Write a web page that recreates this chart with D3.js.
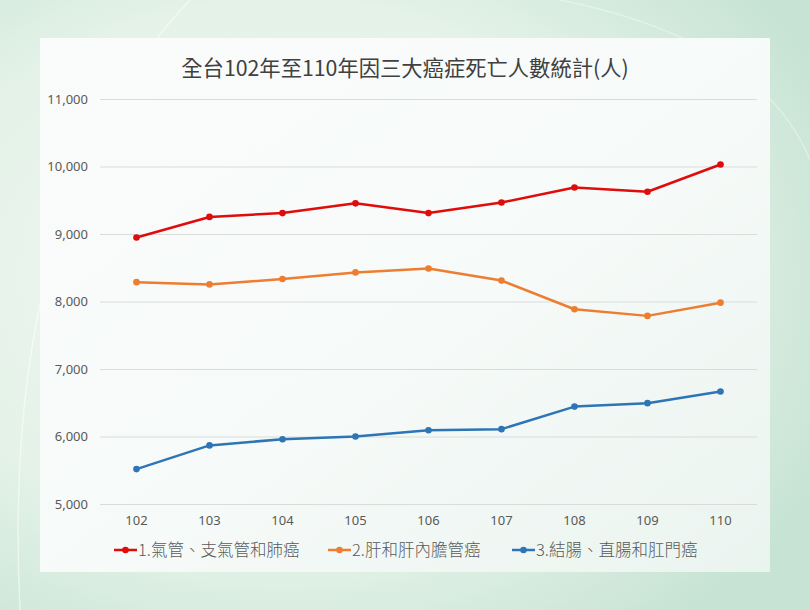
<!DOCTYPE html>
<html>
<head>
<meta charset="utf-8">
<script src="https://cdn.jsdelivr.net/npm/d3@7"></script>
<style>
  body { margin: 0; padding: 0; overflow: hidden; }
  svg { display: block; font-family: "Noto Sans CJK TC", "Noto Sans", sans-serif; }
</style>
</head>
<body>
<div class="chart"></div>
<script>
const years = ['102', '103', '104', '105', '106', '107', '108', '109', '110'];
const lung = [8948, 9253, 9310, 9454, 9310, 9466, 9690, 9626, 10029];
const liver = [8287, 8253, 8333, 8431, 8489, 8310, 7885, 7787, 7983];
const colon = [5517, 5868, 5960, 6000, 6092, 6109, 6443, 6494, 6667];
const seriesNames = ['1.氣管、支氣管和肺癌', '2.肝和肝內膽管癌', '3.結腸、直腸和肛門癌'];
const yTicks = [5000, 6000, 7000, 8000, 9000, 10000, 11000];

const w = 810, h = 610;
const colors = ['#e00b0b', '#ed7d31', '#2e75b6'];
const allSeries = [lung, liver, colon];

const svg = d3.select('div.chart')
  .append('svg')
  .attr('width', w)
  .attr('height', h);

const defs = svg.append('defs');
const bg = defs.append('radialGradient')
  .attr('id', 'bg')
  .attr('cx', '35%').attr('cy', '45%').attr('r', '75%');
bg.append('stop').attr('offset', '0%').attr('stop-color', '#f4faf5');
bg.append('stop').attr('offset', '60%').attr('stop-color', '#e4f2e8');
bg.append('stop').attr('offset', '100%').attr('stop-color', '#c6e3d4');

const panel = defs.append('linearGradient')
  .attr('id', 'panel')
  .attr('x1', '0%').attr('y1', '0%').attr('x2', '100%').attr('y2', '100%');
panel.append('stop').attr('offset', '0%').attr('stop-color', '#fafcfb');
panel.append('stop').attr('offset', '55%').attr('stop-color', '#f6faf8');
panel.append('stop').attr('offset', '100%').attr('stop-color', '#eaf4ef');

svg.append('rect')
  .attr('width', w).attr('height', h)
  .attr('fill', 'url(#bg)');

// faint decorative arcs in the background
svg.append('path')
  .attr('d', 'M 20 610 Q 0 200 190 0')
  .attr('fill', 'none').attr('stroke', '#ffffff').attr('stroke-opacity', 0.5).attr('stroke-width', 1.5);
svg.append('path')
  .attr('d', 'M 560 0 Q 760 40 810 160')
  .attr('fill', 'none').attr('stroke', '#ffffff').attr('stroke-opacity', 0.35).attr('stroke-width', 1.5);

svg.append('rect')
  .attr('x', 40).attr('y', 38)
  .attr('width', 730).attr('height', 534)
  .attr('fill', 'url(#panel)');

const margin = {left: 100, right: 757, top: 99, bottom: 504};

const xScale = d3.scaleBand()
  .domain(years)
  .range([margin.left, margin.right]);

const yScale = d3.scaleLinear()
  .domain([5000, 11000])
  .range([margin.bottom, margin.top]);

// gridlines
svg.append('g')
  .selectAll('line')
  .data(yTicks)
  .enter()
  .append('line')
  .attr('x1', margin.left)
  .attr('x2', margin.right)
  .attr('y1', (d) => yScale(d) + 0.5)
  .attr('y2', (d) => yScale(d) + 0.5)
  .attr('stroke', '#d9dcdb')
  .attr('stroke-width', 1);

const yAxis = d3.axisLeft(yScale)
  .tickValues(yTicks)
  .tickFormat(d3.format(','))
  .tickSize(0)
  .tickPadding(12);

const gy = svg.append('g')
  .attr('transform', 'translate(' + margin.left + ',0)')
  .call(yAxis);
gy.select('.domain').remove();
gy.selectAll('text')
  .attr('fill', '#595959')
  .style('font-size', '13px')
  .style('font-family', '"Noto Sans", sans-serif');

const xAxis = d3.axisBottom(xScale).tickSize(0).tickPadding(12);
const gx = svg.append('g')
  .attr('transform', 'translate(0,' + margin.bottom + ')')
  .call(xAxis);
gx.select('.domain').remove();
gx.selectAll('text')
  .attr('fill', '#595959')
  .style('font-size', '13px')
  .style('font-family', '"Noto Sans", sans-serif');

const line = d3.line()
  .x((d, i) => xScale(years[i]) + xScale.bandwidth() / 2)
  .y((d) => yScale(d));

allSeries.forEach(function(s, k) {
  svg.append('path')
    .datum(s)
    .attr('fill', 'none')
    .attr('stroke', colors[k])
    .attr('stroke-width', 2.5)
    .attr('stroke-linejoin', 'round')
    .attr('d', line);
  svg.append('g')
    .selectAll('circle')
    .data(s)
    .enter()
    .append('circle')
    .attr('cx', (d, i) => xScale(years[i]) + xScale.bandwidth() / 2)
    .attr('cy', (d) => yScale(d))
    .attr('r', 3.3)
    .attr('fill', colors[k]);
});

svg.append('text')
  .text('全台102年至110年因三大癌症死亡人數統計(人)')
  .attr('x', 405)
  .attr('y', 76)
  .attr('text-anchor', 'middle')
  .attr('fill', '#404040')
  .style('font-size', '21.3px');

// legend
const legendX = [114, 328, 512];
const legend = svg.append('g');
seriesNames.forEach(function(name, k) {
  const g = legend.append('g').attr('transform', 'translate(' + legendX[k] + ',550)');
  g.append('line')
    .attr('x1', 0).attr('x2', 23)
    .attr('stroke', colors[k])
    .attr('stroke-width', 2.5);
  g.append('circle')
    .attr('cx', 11.5).attr('r', 3.3)
    .attr('fill', colors[k]);
  g.append('text')
    .text(name)
    .attr('x', 24)
    .attr('y', 6)
    .attr('fill', '#595959')
    .style('font-size', '16.5px')
    .style('font-weight', 300);
});
</script>
</body>
</html>
